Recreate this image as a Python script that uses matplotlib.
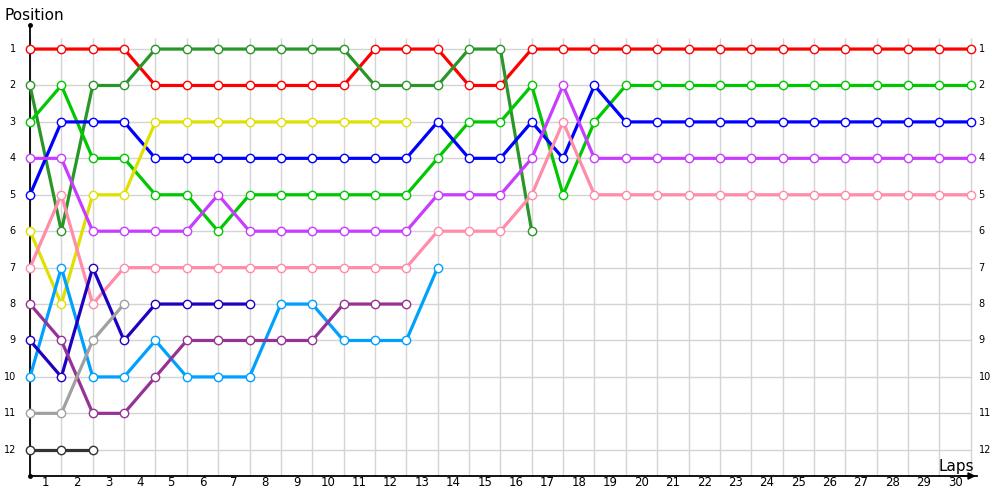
import numpy as np
import matplotlib
matplotlib.use("Agg")
import matplotlib.pyplot as plt

# lap index 0..30, position per lap (series stops when the driver is out)
laps = list(range(31))

red = [1, 1, 1, 1, 2, 2, 2, 2, 2, 2, 2, 1, 1, 1, 2, 2] + [1] * 15
dark_green = [2, 6, 2, 2, 1, 1, 1, 1, 1, 1, 1, 2, 2, 2, 1, 1, 6]
lime = [3, 2, 4, 4, 5, 5, 6, 5, 5, 5, 5, 5, 5, 4, 3, 3, 2, 5, 3] + [2] * 12
blue = [5, 3, 3, 3, 4, 4, 4, 4, 4, 4, 4, 4, 4, 3, 4, 4, 3, 4, 2] + [3] * 12
yellow = [6, 8, 5, 5, 3, 3, 3, 3, 3, 3, 3, 3, 3]
violet = [4, 4, 6, 6, 6, 6, 5, 6, 6, 6, 6, 6, 6, 5, 5, 5, 4, 2] + [4] * 13
pink = [7, 5, 8, 7, 7, 7, 7, 7, 7, 7, 7, 7, 7, 6, 6, 6, 5, 3] + [5] * 13
light_blue = [10, 7, 10, 10, 9, 10, 10, 10, 8, 8, 9, 9, 9, 7]
navy = [9, 10, 7, 9, 8, 8, 8, 8]
plum = [8, 9, 11, 11, 10, 9, 9, 9, 9, 9, 8, 8, 8]
gray = [11, 11, 9, 8]
black = [12, 12, 12]

series = [
    (red, "#ff0000"),
    (dark_green, "#2a9628"),
    (lime, "#00c800"),
    (blue, "#0000ff"),
    (yellow, "#e0e000"),
    (violet, "#c83cff"),
    (pink, "#ff8ca8"),
    (light_blue, "#00a0ff"),
    (navy, "#2000c0"),
    (plum, "#963296"),
    (gray, "#a0a0a0"),
    (black, "#323232"),
]

positions = list(range(1, 13))
lap_labels = [str(i) for i in range(1, 31)]

fig = plt.figure(figsize=(10, 5), dpi=100)
ax = fig.add_axes([0.030, 0.048, 0.947, 0.902])
ax.set_xlim(0, 30.2)
ax.set_ylim(12.72, 0.34)

# grid
for p in positions:
    ax.plot([0, 30], [p, p], color="#d4d4d4", lw=1, zorder=1)
ax.vlines(laps, 12.72, 0.7, color="#d4d4d4", lw=1, zorder=1)

for vals, col in series:
    x = laps[:len(vals)]
    ax.plot(x, vals, color=col, lw=2.3, zorder=3,
            marker="o", ms=6, mfc="white", mec=col, mew=1.0,
            clip_on=False, solid_capstyle="butt")

for s in ["top", "right"]:
    ax.spines[s].set_visible(False)
ax.spines["left"].set_linewidth(1.3)
ax.spines["bottom"].set_linewidth(1.3)

ax.set_xticks([])
ax.set_yticks([])
for p in positions:
    ax.text(-0.45, p, str(p), ha="right", va="center", fontsize=7)
    ax.text(30.25, p, str(p), ha="left", va="center", fontsize=7)
for i, lab in enumerate(lap_labels):
    ax.text(i + 0.5, 12.72, lab, ha="center", va="top", fontsize=8.5)

# axis ends
ax.plot([0], [0.34], marker="o", ms=2.5, color="black", clip_on=False, zorder=5)
ax.plot([0], [12.72], marker="o", ms=2.5, color="black", clip_on=False, zorder=5)
ax.annotate("", xy=(30.25, 12.72), xytext=(29.6, 12.72),
            arrowprops=dict(arrowstyle="-|>", color="black", lw=1.3,
                            mutation_scale=10), annotation_clip=False)

fig.text(0.005, 0.97, "Position", ha="left", va="center", fontsize=11)
ax.text(30.1, 12.45, "Laps", ha="right", va="center", fontsize=11)

fig.savefig("out.png", dpi=100, facecolor="white")
